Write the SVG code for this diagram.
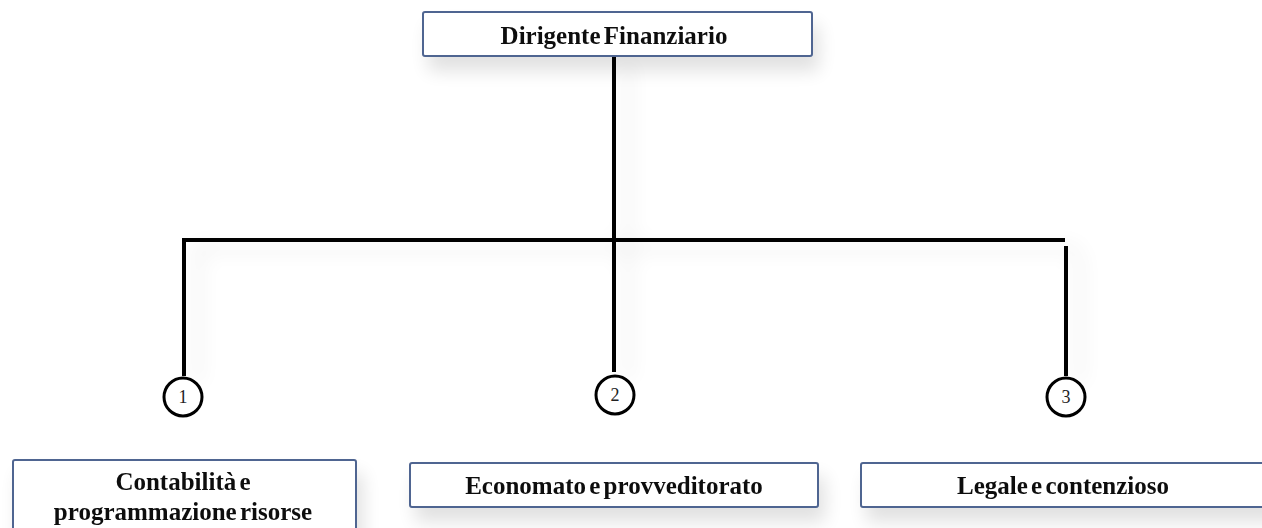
<svg xmlns="http://www.w3.org/2000/svg" width="1262" height="528" viewBox="0 0 1262 528">
<defs>
<filter id="sh" x="-20%" y="-50%" width="140%" height="250%">
<feGaussianBlur in="SourceAlpha" stdDeviation="9"/>
<feOffset dx="6" dy="14" result="b"/>
<feComponentTransfer><feFuncA type="linear" slope="0.12"/></feComponentTransfer>
<feMerge><feMergeNode/><feMergeNode in="SourceGraphic"/></feMerge>
</filter>
<filter id="lsh" x="-50%" y="-20%" width="200%" height="140%">
<feGaussianBlur in="SourceAlpha" stdDeviation="10"/>
<feOffset dx="14" dy="8" result="b"/>
<feComponentTransfer><feFuncA type="linear" slope="0.12"/></feComponentTransfer>
<feMerge><feMergeNode/><feMergeNode in="SourceGraphic"/></feMerge>
</filter>
</defs>
<style>
.box{fill:#fff;stroke:#4f6591;stroke-width:2}
.t{font-family:"Liberation Serif","Times New Roman",serif;font-weight:bold;font-size:25px;fill:#111;text-anchor:middle;word-spacing:-3px}
.ln{stroke:#000;stroke-width:4;fill:none;stroke-linejoin:miter}
.c{fill:#fff;stroke:#000;stroke-width:3}
.n{font-family:"Liberation Serif","Times New Roman",serif;font-size:18px;fill:#222;text-anchor:middle}
</style>
<rect width="1262" height="528" fill="#fff"/>
<g id="connectors" filter="url(#lsh)">
<path class="ln" d="M614 56 V240"/>
<path class="ln" d="M184 376 V240 H1065"/>
<path class="ln" d="M614 240 V372"/>
<path class="ln" d="M1066 246 V376"/>
</g>
<g id="c1"><circle class="c" cx="183" cy="397" r="19"/><text class="n" x="183" y="403">1</text></g>
<g id="c2"><circle class="c" cx="615" cy="395" r="19"/><text class="n" x="615" y="401">2</text></g>
<g id="c3"><circle class="c" cx="1066" cy="397" r="19"/><text class="n" x="1066" y="403">3</text></g>
<g id="root" filter="url(#sh)">
<rect class="box" x="423" y="12" width="389" height="44" rx="2"/>
<text class="t" x="614" y="44">Dirigente Finanziario</text>
</g>
<g id="n1" filter="url(#sh)">
<rect class="box" x="13" y="460" width="343" height="80" rx="2"/>
<text class="t" x="183" y="490">Contabilità e</text>
<text class="t" x="183" y="520">programmazione risorse</text>
</g>
<g id="n2" filter="url(#sh)">
<rect class="box" x="410" y="463" width="408" height="44" rx="2"/>
<text class="t" x="614" y="494">Economato e provveditorato</text>
</g>
<g id="n3" filter="url(#sh)">
<rect class="box" x="861" y="463" width="420" height="44" rx="2"/>
<text class="t" x="1063" y="494">Legale e contenzioso</text>
</g>
</svg>
